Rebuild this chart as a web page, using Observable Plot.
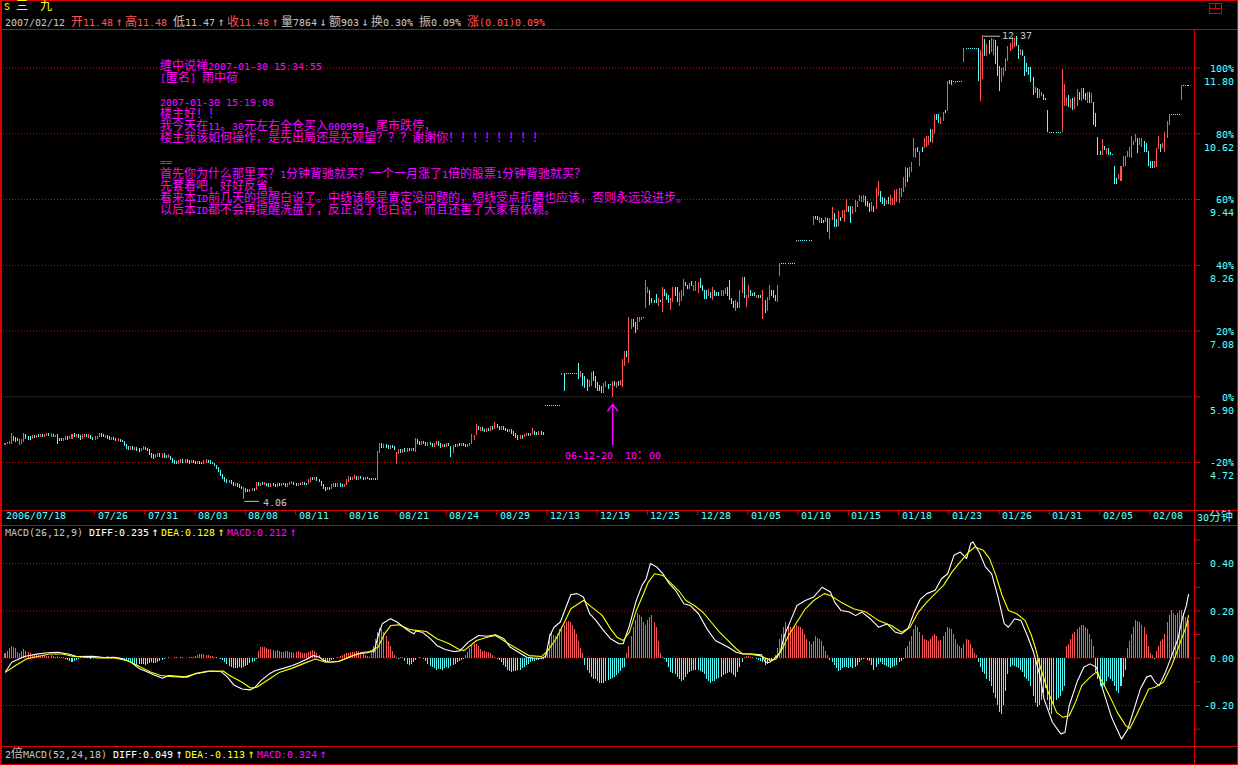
<!DOCTYPE html>
<html><head><meta charset="utf-8">
<script src="https://cdn.jsdelivr.net/npm/d3@7"></script>
<script src="https://cdn.jsdelivr.net/npm/@observablehq/plot@0.6"></script>
<style>
@font-face { font-family: "TdxLat"; src: local("DejaVu Sans Mono"), local("DejaVuSansMono"); size-adjust: 83.5%; unicode-range: U+0000-00FF; }
html,body{margin:0;padding:0;background:#000;}
#root{position:relative;width:1238px;height:765px;background:#000;overflow:hidden;font-family:"TdxLat","Noto Sans CJK SC",sans-serif;font-size:12px;line-height:12px;}
.t{position:absolute;white-space:pre;}
.ln{position:absolute;background:#dd0000;}
.g{color:#c0c0c0}.r{color:#ff5454}.w{color:#ffffff}.y{color:#ffff00}.m{color:#ff00ff}.c{color:#54fcfc}
.fw{display:inline-block;width:12px;text-align:center;font-family:"DejaVu Sans Mono",monospace;font-size:12px;}
svg.chart{position:absolute;left:0;}
</style></head><body><div id="root">
<div class="ln" style="left:0;top:0;width:1238px;height:1px"></div>
<div class="ln" style="left:0;top:0;width:2px;height:765px"></div>
<div class="ln" style="left:1237px;top:0;width:1px;height:765px"></div>
<div class="ln" style="left:0;top:764px;width:1238px;height:1px"></div>
<div class="ln" style="left:0;top:29px;width:1238px;height:1px"></div>
<div class="ln" style="left:1194px;top:29px;width:1px;height:736px"></div>
<div class="ln" style="left:0;top:510px;width:1238px;height:1px"></div>
<div class="ln" style="left:0;top:525px;width:1238px;height:1px"></div>
<div class="ln" style="left:0;top:746px;width:1238px;height:1px"></div>
<div style="position:absolute;left:1209px;top:3px;width:11px;height:9px;border:1px solid #dd0000"></div>
<div class="ln" style="left:1210px;top:8px;width:11px;height:1px"></div>
<div class="ln" style="left:1215px;top:4px;width:1px;height:4px"></div>
<div class="t y" style="left:4px;top:1px">S 三  九</div>
<div class="t" style="left:5px;top:16px"><span class="g">2007/02/12 </span><span class="r">开11.48<span class="fw">↑</span>高11.48</span><span class="g"> 低11.47<span class="fw">↑</span></span><span class="r">收11.48<span class="fw">↑</span></span><span class="g">量7864<span class="fw">↓</span>额903<span class="fw">↓</span>换0.30% 振0.09% </span><span class="r">涨(0.01)0.09%</span></div>
<div class="t m" id="note" style="left:160px;top:61px"></div>
<div class="t c" style="left:1197px;top:512px">30分钟</div>
<div class="t" style="left:5px;top:526px"><span class="g">MACD(26,12,9) </span><span class="w">DIFF:0.235<span class="fw">↑</span></span><span class="y">DEA:0.128<span class="fw">↑</span></span><span class="m">MACD:0.212<span class="fw">↑</span></span></div>
<div class="t" style="left:5px;top:748px"><span class="g">2倍MACD(52,24,18) </span><span class="w">DIFF:0.049<span class="fw">↑</span></span><span class="y">DEA:-0.113<span class="fw">↑</span></span><span class="m">MACD:0.324<span class="fw">↑</span></span></div>
</div>
<script>
// ---------- DATA ----------
// 30-minute candles [open, close]; Jul–Aug 2006
const candlesA = [
[5.03,5.06],[5.05,5.07],[5.06,5.08],[5.06,5.23],[5.18,5.10],[5.16,5.09],[5.15,5.11],[5.04,5.13],[5.06,5.12],[5.09,5.24],
[5.21,5.14],[5.18,5.12],[5.17,5.13],[5.14,5.19],
[5.20,5.16],[5.16,5.20],[5.21,5.17],[5.17,5.22],[5.22,5.18],[5.18,5.21],[5.19,5.23],[5.23,5.19],[5.18,5.24],[5.22,5.18],[5.17,5.20],
[5.21,5.06],
[5.15,5.11],[5.14,5.10],[5.11,5.15],[5.13,5.17],[5.17,5.13],[5.14,5.18],
[5.15,5.22],[5.24,5.18],[5.17,5.22],[5.22,5.16],[5.19,5.12],[5.14,5.21],[5.18,5.22],[5.22,5.17],[5.16,5.21],
[5.19,5.14],[5.16,5.12],[5.13,5.17],[5.15,5.18],[5.18,5.24],
[5.23,5.18],[5.21,5.17],[5.16,5.20],[5.20,5.15],[5.17,5.13],[5.13,5.16],[5.16,5.12],[5.14,5.10],[5.10,5.14],[5.13,5.09],[5.11,5.08],
[5.09,5.02],[5.04,4.97],[5.00,4.94],[4.95,5.00],
[5.00,4.95],[4.95,4.99],[4.99,4.93],[4.96,4.91],[4.92,4.97],[4.95,5.00],[4.99,4.94],[4.96,4.92],
[4.94,4.86],[4.88,4.80],[4.85,4.79],
[4.80,4.86],[4.82,4.88],[4.88,4.82],[4.81,4.87],[4.87,4.81],[4.84,4.80],[4.80,4.85],
[4.82,4.76],[4.78,4.72],[4.75,4.70],[4.73,4.69],
[4.70,4.75],[4.72,4.77],[4.76,4.71],[4.71,4.76],[4.76,4.72],[4.74,4.70],[4.71,4.74],[4.74,4.71],[4.73,4.70],[4.70,4.73],[4.73,4.70],[4.72,4.69],[4.70,4.74],[4.72,4.76],[4.75,4.72],[4.74,4.70],[4.72,4.69],
[4.70,4.65],[4.66,4.60],[4.62,4.55],[4.57,4.48],[4.50,4.42],[4.45,4.37],
[4.40,4.35],[4.35,4.39],[4.39,4.33],[4.36,4.30],[4.30,4.34],[4.34,4.29],[4.31,4.26],[4.28,4.24],
[4.06,4.27],
[4.25,4.20],[4.23,4.19],[4.19,4.23],[4.21,4.25],[4.24,4.21],
[4.22,4.35],[4.36,4.30],[4.30,4.34],[4.35,4.31],[4.31,4.35],[4.34,4.30],[4.33,4.29],[4.29,4.33],[4.33,4.30],[4.32,4.29],[4.29,4.33],[4.33,4.30],[4.30,4.34],[4.34,4.31],[4.33,4.29],[4.29,4.33],[4.31,4.35],[4.33,4.37],[4.36,4.32],[4.34,4.30],[4.30,4.34],[4.34,4.31],[4.31,4.35],[4.35,4.32],[4.34,4.31],
[4.33,4.40],[4.38,4.45],[4.45,4.40],[4.40,4.44],[4.44,4.39],[4.41,4.37],
[4.37,4.30],[4.32,4.24],[4.27,4.21],[4.22,4.27],[4.27,4.22],
[4.24,4.31],[4.28,4.34],[4.33,4.29],[4.29,4.33],[4.33,4.28],[4.31,4.28],[4.28,4.32],
[4.31,4.40],[4.37,4.46],[4.45,4.41],[4.41,4.45],[4.43,4.47],[4.46,4.40],
[4.41,4.46],[4.46,4.42],[4.44,4.41],[4.41,4.45],[4.45,4.42],[4.43,4.40],[4.42,4.40],[4.40,4.43],[4.43,4.40],
[4.40,4.91],
[4.90,5.06],[5.05,4.98],[4.98,5.03],[5.03,4.99],[5.01,4.97],[4.97,5.02],[5.02,4.98],[5.00,4.95],
[4.70,4.89],
[4.88,4.94],[4.95,4.90],[4.90,4.95],[4.96,4.91],[4.91,4.96],[4.97,4.93],[4.93,4.97],[4.96,4.92],
[4.91,5.15],
[5.12,5.06],[5.09,5.04],[5.04,5.09],[5.09,5.05],[5.07,5.02],[5.02,5.07],[5.07,5.03],[5.05,5.00],[5.00,5.05],[5.03,5.08],[5.08,5.02],[5.05,4.99],[5.00,5.04],[5.04,5.00],[5.00,5.05],[5.05,5.01],
[5.00,4.82],
[4.90,5.02],[5.04,5.00],[5.00,5.04],[5.05,5.01],[5.01,5.05],[5.06,5.02],[5.04,5.00],[5.00,5.04],[5.02,5.06],
[5.06,5.21],[5.12,5.20],[5.21,5.39],
[5.36,5.30],[5.29,5.34],[5.34,5.28],[5.31,5.27],[5.27,5.33],[5.33,5.29],[5.29,5.35],[5.35,5.31],
[5.33,5.43],
[5.40,5.34],[5.36,5.31],[5.31,5.35],[5.35,5.30],[5.33,5.28],[5.31,5.26],[5.26,5.30],[5.30,5.24],
[5.27,5.20],[5.23,5.16],[5.19,5.13],[5.15,5.19],[5.20,5.15],
[5.18,5.22],[5.20,5.24],[5.23,5.19],[5.19,5.23],[5.24,5.33],
[5.27,5.22],[5.25,5.21],[5.22,5.26],[5.26,5.22],[5.25,5.21]
];
// Dec 2006 – early Jan 2007
const candlesB = [
[5.74,5.74],[5.74,5.74],[5.74,5.74],[5.74,5.74],[5.74,5.74],[5.74,5.74],[5.74,5.74],[5.74,5.74],
[6.30,6.31],[6.31,6.00],[6.31,6.31],[6.31,6.31],[6.31,6.31],[6.31,6.31],[6.31,6.31],[6.31,6.31],
[6.48,6.22],[6.25,6.34],[6.31,6.10],[6.25,6.05],[6.20,6.01],[6.07,6.19],[6.10,6.32],[6.35,6.19],[6.25,6.05],[6.15,6.00],
[6.10,6.00],[6.08,5.96],[5.97,6.13],[6.07,6.16],[6.12,6.04],[6.12,6.11],[5.89,6.16],[6.17,6.10],[6.06,6.14],[6.16,6.09],
[6.12,6.19],[6.08,6.56],[6.46,6.70],[6.70,6.61],[6.50,7.32],[7.12,7.28],[7.27,7.15],[7.22,7.04],[7.10,7.32],[7.25,7.32],
[7.28,7.32],[7.32,7.31],[7.49,7.98],[7.76,7.85],[7.80,7.55],[7.65,7.59],[7.62,7.59],[7.73,7.58],[7.53,7.65],[7.62,7.61],
[7.43,7.85],[7.82,7.71],[7.74,7.64],[7.71,7.58],[7.46,7.65],[7.61,7.85],[7.85,7.71],[7.85,7.61],[7.53,7.77],[7.62,7.79],
[7.71,8.00],[7.94,7.88],[7.89,7.83],[7.83,7.93],[7.96,7.88],[7.80,7.89],[7.80,7.96],[7.77,7.95],[8.01,7.86],[7.89,7.80],
[7.80,7.65],[7.79,7.65],[7.70,7.82],[7.77,7.68],[7.64,7.85],[7.80,7.71],[7.77,7.70],[7.76,7.70],[7.71,7.80],[7.71,7.80],
[7.74,7.83],[7.85,7.71],[7.98,7.64],[7.65,7.56],[7.61,7.49],[7.44,7.62],[7.59,7.49],[7.50,7.79],[7.76,8.04],[8.03,7.68],
[7.52,7.71],[7.67,7.88],[7.80,7.71],[7.74,7.70],[7.77,7.70],[7.68,7.71],[7.71,7.67],[7.70,7.67],[7.29,7.79],[7.62,7.40],
[7.44,7.68],[7.64,7.89],[7.80,7.71],[7.79,7.67],[7.71,7.62],[7.61,7.89],
[8.07,8.28],[8.28,8.28],[8.28,8.28],[8.28,8.28],[8.28,8.28],[8.28,8.28],[8.28,8.28],[8.28,8.28],
[8.68,8.69],[8.69,8.69],[8.69,8.69],[8.69,8.69],[8.69,8.69],[8.69,8.69],[8.69,8.69],[8.69,8.69]
];
// Jan – Feb 2007
const candlesC = [
[8.99,9.13],[9.13,9.09],[9.12,9.08],[9.02,9.11],[9.09,9.01],[9.06,9.01],[9.03,9.10],[9.09,8.85],[8.73,9.09],[9.07,9.28],
[9.18,8.94],[9.07,8.94],[8.97,9.21],[9.10,9.06],[9.10,9.24],[9.04,9.24],[9.21,9.44],[9.31,9.21],[9.30,9.01],[9.18,9.30],
[9.21,9.42],[9.31,9.40],[9.42,9.50],[9.40,9.48],[9.39,9.51],[9.49,9.33],[9.39,9.30],[9.36,9.21],[9.24,9.37],[9.30,9.21],
[9.27,9.63],[9.51,9.75],[9.57,9.40],[9.46,9.36],[9.45,9.32],[9.36,9.42],[9.46,9.36],[9.35,9.51],[9.34,9.45],[9.35,9.60],
[9.39,9.61],[9.37,9.63],[9.48,9.63],[9.57,9.82],[9.66,10.00],[9.99,9.75],[9.84,10.00],[9.93,10.09],[10.20,10.52],[10.18,10.35],
[10.36,10.29],[10.04,10.30],[10.37,10.30],[10.36,10.52],[10.38,10.57],[10.42,10.56],[10.69,10.47],[10.45,10.69],[10.62,10.95],[10.95,10.87],
[10.95,10.81],[10.80,10.90],[10.84,11.00],[11.02,10.99],[11.02,11.54],[11.56,11.51],[11.56,11.50],
[11.54,11.54],[11.53,11.54],[11.54,11.54],[11.54,11.54],[11.54,11.54],
[11.91,12.14],[12.14,12.14],[12.14,12.14],[12.14,12.14],[12.14,12.14],[12.14,12.14],[12.14,12.14],
[12.14,11.57],[11.20,12.11],[11.60,12.37],[12.31,12.01],[12.02,12.21],[12.29,12.05],[12.08,12.32],[12.04,12.31],[12.29,11.88],[12.17,11.65],
[11.82,11.38],[11.54,11.78],[11.65,11.80],[11.74,11.96],[11.93,12.18],[12.11,12.23],[12.14,12.33],[12.18,12.32],[12.35,12.20],[12.20,11.97],
[12.03,12.12],[12.11,12.02],[12.00,11.66],[11.88,11.72],[11.80,11.68],[11.80,11.54],[11.62,11.32],[11.36,11.44],[11.42,11.26],[11.27,11.41],
[11.30,11.36],[11.32,11.23],[11.24,11.22],[11.02,10.65],
[10.63,10.63],[10.63,10.63],[10.63,10.63],[10.63,10.63],[10.63,10.63],[10.63,10.63],
[10.66,11.77],[11.11,11.50],[11.11,11.26],[11.29,11.10],[11.08,11.22],[11.24,11.05],[11.07,11.26],[11.11,11.41],[11.36,11.22],[11.20,11.42],
[11.42,11.24],[11.33,11.23],[11.18,11.36],[11.35,11.18],[11.17,11.33],[11.18,10.77],[10.98,10.75],[10.54,10.23],[10.30,10.23],[10.23,10.50],
[10.39,10.32],[10.26,10.34],[10.34,10.23],[10.28,10.24],[10.24,10.23],[10.03,9.72],[9.80,9.72],[9.80,9.88],[9.78,10.02],[10.02,10.21],
[10.05,10.21],[10.20,10.29],[10.20,10.36],[10.18,10.56],[10.41,10.48],[10.48,10.60],[10.53,10.27],[10.41,10.53],[10.39,10.52],[10.47,10.30],
[10.44,10.30],[10.29,10.04],[10.11,10.01],[10.11,10.00],[10.00,10.11],[10.02,10.34],[10.34,10.56],[10.41,10.30],[10.36,10.44],[10.30,10.63],
[10.54,10.83],[10.78,10.95],
[10.95,10.95],[10.95,10.95],[10.95,10.95],[10.95,10.95],[10.95,10.95],
[11.22,11.48],[11.48,11.48],[11.48,11.48],[11.48,11.48]
];
// x-axis date labels and the bar index each sits on
const tickLabels = ["2006/07/18","07/26","07/31","08/03","08/08","08/11","08/16","08/21","08/24","08/29","12/13","12/19","12/25","12/28","01/05","01/10","01/15","01/18","01/23","01/26","01/31","02/05","02/08"];
const tickBars = [0,44,68,92,116,140,164,188,212,236,260,284,308,332,356,380,404,428,452,476,500,524,548];
// right axis levels
const levelPrice = [11.80,10.62,9.44,8.26,7.08,5.90,4.72];
const levelPct = ["100%","80%","60%","40%","20%","0%","-20%"];
const basePrice = 5.90;
// marked bar
const noteBar = 290;
const noteLabel = "06-12-20  10：00";
// MACD histogram, one value per bar
const histA = [
0.018,0.03,0.04,0.05,0.045,0.04,0.025,0.02,0.03,0.035,0.03,0.025,0.02,0.015,0.012,
0.01,0.012,0.008,0.01,0.012,0.008,0.006,0.01,0.008,0.005,0.006,0.004,0.003,0.002,
-0.005,-0.01,-0.015,-0.017,-0.014,-0.01,-0.006,
0.003,-0.002,0.003,0.002,-0.003,-0.004,0.002,0.003,0.002,0.001,
0.004,0.005,0.004,0.006,0.005,0.004,0.003,0.002,0.001,
-0.003,-0.006,-0.01,-0.013,-0.016,-0.02,-0.024,-0.027,-0.03,-0.028,-0.025,-0.027,-0.03,-0.026,-0.022,-0.02,-0.024,-0.022,-0.018,-0.014,-0.01,-0.006,
-0.002,0.002,-0.002,-0.003,0.001,0.002,-0.002,0.001,0.002,-0.002,-0.003,0.002,0.003,0.004,
0.008,0.012,0.015,0.016,0.014,0.013,0.01,0.008,0.006,0.004,
0.002,-0.002,-0.005,-0.01,
-0.02,-0.028,-0.035,-0.04,-0.044,-0.045,-0.042,-0.04,-0.043,-0.04,-0.035,-0.03,-0.024,-0.018,-0.012,-0.006,
0.03,0.045,0.047,0.044,0.04,0.036,0.035,0.033,0.03,0.032,0.028,0.025,0.026,0.028,0.03,0.024,0.022,0.02,0.025,0.028,0.024,0.02,0.018,0.02,0.024,0.03,0.032,0.028,0.02,0.01,
-0.006,-0.012,-0.018,-0.02,-0.016,-0.01,-0.005,-0.002,
0.004,0.008,0.012,0.015,0.018,0.02,0.022,0.024,0.026,0.028,0.03,0.026,0.02,0.012,0.006,
0.004,0.02,0.05,
0.08,0.11,0.127,0.12,0.11,0.09,0.07,0.05,0.03,0.012,
0.002,-0.004,0.003,0.002,
-0.015,-0.025,-0.03,-0.028,-0.02,-0.01,
-0.003,0.002,-0.002,-0.004,
-0.015,-0.025,-0.033,-0.04,-0.045,-0.05,-0.048,-0.046,-0.05,-0.045,-0.04,-0.042,-0.036,-0.03,-0.025,-0.02,-0.015,-0.01,-0.005,
0.01,0.025,0.04,0.055,0.06,0.057,0.05,0.035,0.03,0.028,0.025,0.022,0.018,0.01,
0.004,-0.004,-0.01,
-0.02,-0.03,-0.04,-0.05,-0.056,-0.06,-0.058,-0.055,-0.05,-0.052,-0.045,-0.04,-0.032,-0.025,-0.02,-0.015,-0.012,-0.01,-0.008,-0.006,-0.004,
0.02,0.05,0.1,0.105,0.095,0.09,0.1,0.12,0.13,0.14,0.15,0.155,0.15,0.14,0.12,0.1,0.07,0.04,0.02,
-0.03,-0.05,-0.065,-0.08,-0.09,-0.09,-0.1,-0.105
];
const histB = [
-0.109,-0.105,-0.1,-0.095,-0.09,-0.085,-0.08,-0.075,-0.065,-0.055,-0.045,-0.04,
0.02,0.05,0.09,0.13,0.16,0.19,0.18,0.17,0.15,0.14,0.16,0.17,0.18,0.15,0.13,0.07,0.02,
0.003,-0.005,
-0.02,-0.04,-0.06,-0.065,-0.07,-0.08,-0.09,-0.1,-0.095,-0.08,-0.07,-0.06,-0.055,-0.05,-0.05,-0.05,-0.055,-0.06,-0.07,-0.09,-0.1,-0.105,-0.1,-0.098,-0.09,-0.085,-0.08,-0.075,-0.07,-0.065,-0.06,-0.065,-0.075,-0.08,-0.06,-0.04,-0.02,
0.005,0.008,0.006,0.004,0.003,-0.003,-0.005,-0.008,-0.012,-0.02,-0.03,-0.025,
-0.015,-0.008,-0.003,0.01,0.04,
0.08,0.1,0.13,0.15,0.14,0.13,0.12,0.13,0.14,0.135,0.13,0.12,0.1,0.08,0.07,0.06,0.07,0.09,0.085,0.08,0.07,0.05,0.03,0.01,
-0.01,-0.02,-0.03,-0.045,-0.055,-0.05,-0.045,-0.04,-0.04,-0.042,-0.04,-0.045,-0.04,-0.03,-0.02,-0.01,
-0.005,-0.002,-0.008,
-0.015,-0.03,-0.05,-0.04,-0.025,-0.02,-0.025,-0.03,-0.035,-0.04,-0.045,-0.04,-0.035,-0.03,-0.02,-0.012,-0.005,
0.04,0.05,0.07,0.09,0.12,0.14,0.13,0.11,0.095,0.08,0.075,0.07,0.08,0.09,0.1,0.09,0.07,0.075,0.09,0.11,0.13,0.125,0.12,0.1,0.08,0.06,0.05,0.04,0.06,0.08,0.075,0.06,0.04,0.02,0.01,
-0.02,-0.04,-0.06,-0.07,-0.09,-0.1,-0.12,-0.15,-0.17,-0.2,-0.23,-0.24,-0.2,-0.14,-0.07,-0.04,-0.03,-0.035,-0.04,-0.045,-0.05,-0.06,-0.08,-0.09,-0.1,-0.12,-0.16,-0.19,-0.21,-0.2,-0.18,-0.15,-0.13,-0.18,-0.22,-0.24,-0.2,-0.18,-0.17,-0.16,-0.14,-0.12,
0.05,0.06,0.08,0.1,0.11,0.12,0.13,0.14,0.14,0.13,0.12,0.1,0.08,0.05,
-0.06,-0.09,-0.12,-0.13,-0.12,-0.1,-0.08,-0.09,-0.1,-0.12,-0.14,-0.15,-0.12,-0.08,-0.05,
0.04,0.07,0.1,0.13,0.16,0.155,0.15,0.14,0.13,0.1,0.05,0.02,0.01,
-0.005,
0.03,0.05,0.07,0.08,0.1,0.15,0.18,0.2,0.19,0.18,0.19,0.2,0.2,0.19,0.17,0.16
];
// DIFF (white) readings: bar index and value
const diffBar = [0,3,9,14,20,25,30,34,42,47,52,56,60,64,67,71,75,78,84,87,91,95,98,103,106,109,113,117,119,122,126,129,133,137,140,144,147,150,152,155,159,162,166,171,176,178,180,183,184,187,190,193,195,196,199,203,206,210,214,217,221,226,230,234,238,241,245,249,252,256,258,260,262,265,268,270,273,276,279,282,285,289,293,295,298,301,304,306,308,311,314,317,320,324,327,331,335,339,343,346,349,352,357,361,363,365,367,370,372,375,378,382,386,390,394,396,399,403,406,409,413,417,421,425,428,431,434,437,440,444,447,450,453,456,459,461,462,465,468,471,474,477,479,482,485,488,491,494,496,500,504,506,508,512,515,518,521,524,528,530,533,536,539,542,545,547,549,551,554,557,560,562,564,565];
const diffVal = [-0.057,-0.017,0.007,0.016,0.023,0.025,0.018,0.007,0.008,0.003,0.004,-0.003,-0.017,-0.045,-0.055,-0.071,-0.085,-0.073,-0.078,-0.08,-0.064,-0.059,-0.054,-0.057,-0.08,-0.113,-0.13,-0.134,-0.124,-0.095,-0.066,-0.052,-0.042,-0.031,-0.02,-0.003,0.011,0.004,-0.01,-0.017,-0.014,-0.003,0.011,0.025,0.028,0.096,0.146,0.163,0.167,0.153,0.132,0.113,0.103,0.115,0.11,0.082,0.054,0.037,0.028,0.031,0.068,0.096,0.093,0.099,0.082,0.047,0.025,0.004,0.001,0,0.007,0.096,0.131,0.153,0.223,0.268,0.273,0.259,0.188,0.16,0.124,0.082,0.061,0.061,0.138,0.237,0.308,0.336,0.40,0.386,0.357,0.315,0.287,0.23,0.223,0.188,0.124,0.075,0.057,0.042,0.025,0.018,0.018,0.014,-0.017,-0.017,-0.003,0.025,0.096,0.16,0.223,0.244,0.259,0.30,0.28,0.237,0.202,0.195,0.18,0.195,0.167,0.131,0.145,0.11,0.103,0.124,0.195,0.25,0.273,0.287,0.336,0.357,0.435,0.449,0.421,0.485,0.492,0.449,0.386,0.357,0.259,0.146,0.131,0.167,0.159,0.096,0.025,-0.073,-0.172,-0.271,-0.32,-0.314,-0.201,-0.095,-0.038,-0.024,-0.038,-0.13,-0.243,-0.285,-0.342,-0.3,-0.215,-0.13,-0.08,-0.073,-0.102,-0.116,-0.059,0.011,0.082,0.167,0.223,0.27];
// DEA (yellow) readings
const deaBar = [0,5,10,16,21,27,32,38,45,52,58,63,69,74,80,85,91,96,104,107,113,117,120,126,131,137,142,148,153,159,162,168,173,178,181,184,188,193,197,201,206,212,216,219,225,230,234,239,245,250,256,259,263,267,270,276,280,285,289,292,295,298,301,304,307,310,314,318,322,325,329,333,337,341,345,349,352,355,360,364,366,368,371,374,378,382,386,391,394,399,405,411,417,423,428,432,436,440,444,448,452,456,460,463,467,470,473,476,479,483,487,490,492,494,498,502,505,508,511,514,518,521,524,528,531,535,537,540,543,546,549,553,557,560,564,565];
const deaVal = [-0.059,-0.03,-0.003,0.008,0.018,0.018,0.008,0.004,0.001,0.001,-0.01,-0.031,-0.057,-0.073,-0.078,-0.08,-0.066,-0.055,-0.054,-0.073,-0.102,-0.126,-0.123,-0.088,-0.059,-0.042,-0.024,-0.003,-0.017,-0.014,-0.003,0.018,0.023,0.047,0.103,0.138,0.141,0.121,0.117,0.113,0.082,0.061,0.04,0.032,0.075,0.089,0.096,0.068,0.037,0.011,0.007,0.032,0.082,0.153,0.209,0.244,0.216,0.181,0.124,0.089,0.075,0.11,0.195,0.258,0.322,0.357,0.35,0.315,0.28,0.244,0.223,0.195,0.153,0.11,0.075,0.04,0.018,0.018,0.011,-0.003,-0.01,-0.003,0.04,0.096,0.153,0.209,0.244,0.273,0.265,0.237,0.209,0.195,0.159,0.138,0.11,0.131,0.195,0.237,0.273,0.308,0.364,0.407,0.449,0.47,0.456,0.421,0.35,0.265,0.202,0.188,0.159,0.096,0.04,-0.031,-0.144,-0.229,-0.25,-0.243,-0.187,-0.116,-0.08,-0.059,-0.102,-0.172,-0.229,-0.285,-0.297,-0.243,-0.187,-0.13,-0.123,-0.102,-0.031,0.04,0.138,0.18];
const macdLevels = [0.40,0.20,0.00,-0.20];
const macdTicks = [-0.3,-0.2,-0.1,0,0.1,0.2,0.3,0.4,0.5];
const noteLines = [
"缠中说禅2007-01-30 15:34:55",
"[匿名] 雨中荷",
"",
"2007-01-30 15:19:08",
"楼主好！！",
"我今天在11。30元左右全仓买入000999，尾市跌停，",
"楼主我该如何操作，是先出局还是先观望？？？谢谢你！！！！！！！！",
"",
"==",
"首先你为什么那里买？1分钟背驰就买？一个一月涨了1倍的股票1分钟背驰就买？",
"先套着吧，好好反省。",
"看来本ID前几天的提醒白说了。中线该股是肯定没问题的，短线受点折磨也应该，否则永远没进步。",
"以后本ID都不会再提醒洗盘了，反正说了也白说，而且还害了大家有依赖。"
];

// ---------- BUILD ----------
const RED = "#ff5454", CYAN = "#54fcfc", FRAME = "#dd0000", MAG = "#ff00ff", GRAY = "#c0c0c0";
const FONT = '"TdxLat","Noto Sans CJK SC",sans-serif';
document.getElementById("note").textContent = noteLines.join("\n");

const candles = [...candlesA, ...candlesB, ...candlesC];
const open = candles.map(d => d[0]), close = candles.map(d => d[1]);
const N = candles.length;
const bars = d3.range(N);
const upBars = bars.filter(i => close[i] > open[i]);
const dnBars = bars.filter(i => close[i] <= open[i]);
const hiOf = i => Math.max(open[i], close[i]);
const loOf = i => Math.min(open[i], close[i]);
const maxBar = d3.maxIndex(bars, hiOf);
const minBar = d3.minIndex(bars, loOf);
const xDomain = [0, N - 1];

const main = Plot.plot({
  width: 1238, height: 525,
  marginTop: 0, marginRight: 0, marginBottom: 0, marginLeft: 0,
  style: {background: "transparent", fontFamily: FONT, fontSize: "12px", overflow: "visible"},
  x: {domain: xDomain, range: [5, 1188], axis: null},
  y: {domain: [basePrice, 11.80], range: [396.3, 67.5], axis: null},
  marks: [
    Plot.ruleY(levelPrice.filter(p => p !== basePrice), {y: d => d, stroke: FRAME, strokeDasharray: "1,2", insetLeft: 3, insetRight: 45}),
    Plot.ruleY([basePrice], {y: d => d, stroke: FRAME, strokeDasharray: "1,1", insetLeft: 3, insetRight: 45}),
    Plot.ruleY(levelPrice, {y: d => d, stroke: FRAME, insetLeft: 1194, insetRight: 38}),
    Plot.rect(dnBars, {x1: i => i - 0.24, x2: i => i + 0.24, y1: i => open[i], y2: i => close[i], fill: CYAN, insetTop: -0.5, insetBottom: -0.5, shapeRendering: "crispEdges"}),
    Plot.rect(upBars, {x1: i => i - 0.24, x2: i => i + 0.24, y1: i => open[i], y2: i => close[i], fill: RED, insetTop: -0.5, insetBottom: -0.5, shapeRendering: "crispEdges"}),
    // high / low markers
    Plot.link([maxBar], {x1: i => i, x2: i => i + 8, y1: hiOf, y2: hiOf, stroke: GRAY}),
    Plot.text([maxBar], {x: i => i, y: hiOf, text: i => hiOf(i).toFixed(2), dx: 19, dy: -1, textAnchor: "start", fill: GRAY, fontSize: 12, fontFamily: FONT}),
    Plot.link([minBar], {x1: i => i, x2: i => i + 7, y1: loOf, y2: loOf, stroke: GRAY, dy: 2}),
    Plot.text([minBar], {x: i => i, y: loOf, text: i => loOf(i).toFixed(2), dx: 19, dy: 3, textAnchor: "start", fill: GRAY, fontSize: 12, fontFamily: FONT}),
    // annotated bar
    Plot.arrow([noteBar], {x1: i => i, x2: i => i, y1: i => loOf(i) - 0.85, y2: loOf, insetEnd: 7, stroke: MAG, headLength: 8, headAngle: 75}),
    Plot.text([noteBar], {x: i => i, y: loOf, text: () => noteLabel, dy: 58, textAnchor: "middle", fill: MAG, fontSize: 12, fontFamily: FONT}),
    // right axis labels
    Plot.text(levelPrice, {y: d => d, text: (d, i) => levelPct[i], frameAnchor: "right", dx: -5, textAnchor: "end", fill: CYAN, fontSize: 12, fontFamily: FONT}),
    Plot.text(levelPrice, {y: d => d, text: d => d.toFixed(2), frameAnchor: "right", dx: -5, dy: 13, textAnchor: "end", fill: CYAN, fontSize: 12, fontFamily: FONT}),
    // date axis
    Plot.ruleX(tickBars.slice(1), {x: d => d, dx: -3, insetTop: 511, insetBottom: 10, stroke: FRAME}),
    Plot.text(tickBars, {x: d => d, text: (d, i) => tickLabels[i], frameAnchor: "bottom", dy: -7, textAnchor: "start", fill: CYAN, fontSize: 12, fontFamily: FONT})
  ]
});
main.classList.add("chart");
main.style.top = "0px";
document.getElementById("root").appendChild(main);

const hist = [...histA, ...histB];
const hBars = d3.range(hist.length);
const diffPts = diffBar.map((b, k) => ({b, v: diffVal[k]}));
const deaPts = deaBar.map((b, k) => ({b, v: deaVal[k]}));

const macd = Plot.plot({
  width: 1238, height: 221,
  marginTop: 0, marginRight: 0, marginBottom: 0, marginLeft: 0,
  style: {background: "transparent", fontFamily: FONT, fontSize: "12px", overflow: "visible"},
  x: {domain: xDomain, range: [5, 1188], axis: null},
  y: {domain: [-0.2, 0.4], range: [180, 38.1], axis: null},
  marks: [
    Plot.ruleY(macdLevels, {y: d => d, stroke: FRAME, strokeDasharray: "1,2", insetLeft: 3, insetRight: 45}),
    Plot.ruleY(macdTicks, {y: d => d, stroke: FRAME, insetLeft: 1194, insetRight: 38}),
    Plot.rect(hBars.filter(i => hist[i] > 0), {x1: i => i - 0.24, x2: i => i + 0.24, y1: () => 0, y2: i => hist[i], fill: RED, shapeRendering: "crispEdges"}),
    Plot.rect(hBars.filter(i => hist[i] < 0), {x1: i => i - 0.24, x2: i => i + 0.24, y1: () => 0, y2: i => hist[i], fill: CYAN, shapeRendering: "crispEdges"}),
    Plot.line(diffPts, {x: "b", y: "v", stroke: "#ffffff", strokeWidth: 1.1}),
    Plot.line(deaPts, {x: "b", y: "v", stroke: "#ffff00", strokeWidth: 1.1}),
    Plot.text(macdLevels, {y: d => d, text: d => d.toFixed(2), frameAnchor: "right", dx: -5, textAnchor: "end", fill: CYAN, fontSize: 12, fontFamily: FONT})
  ]
});
macd.classList.add("chart");
macd.style.top = "525px";
document.getElementById("root").appendChild(macd);
</script>
</body></html>
